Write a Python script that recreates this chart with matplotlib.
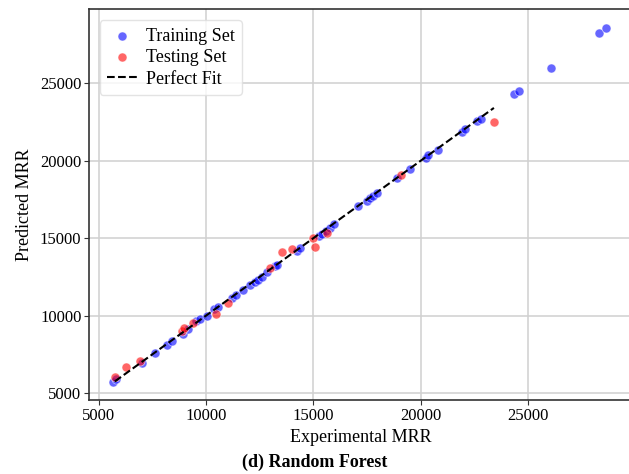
import matplotlib
matplotlib.use("Agg")
import matplotlib.pyplot as plt
import numpy as np

# training set: experimental vs predicted MRR
train_exp = [5650, 5790, 7000, 7610, 8170, 8400, 8910, 9150, 9520, 9700, 10030,
             10360, 10550, 11200, 11380, 11710, 12040, 12270, 12410, 12600, 12830,
             13200, 13300, 14230, 14370, 15250, 15390, 15580, 15770, 15950, 17070,
             17490, 17630, 17770, 17950, 18880, 19490, 20240, 20330, 20800, 21910,
             22050, 22610, 22800, 24340, 24570, 26060, 28300, 28630]
train_pred = [5710, 5900, 6940, 7580, 8100, 8350, 8800, 9130, 9650, 9770, 9970,
              10420, 10550, 11130, 11320, 11650, 11970, 12160, 12290, 12480, 12810,
              13190, 13260, 14160, 14350, 15130, 15260, 15450, 15650, 15900, 17060,
              17390, 17580, 17710, 17900, 18870, 19450, 20160, 20350, 20680, 21840,
              22030, 22550, 22680, 24290, 24490, 25970, 28230, 28550]

# testing set
test_exp = [5750, 6260, 6910, 8870, 8960, 9380, 10450, 11010, 12970, 13530,
            14000, 15000, 15070, 15620, 19070, 23400]
test_pred = [6030, 6680, 7060, 9000, 9190, 9520, 10100, 10800, 13060, 14100,
             14290, 15000, 14420, 15320, 19060, 22480]

plt.rcParams['font.family'] = ['Liberation Serif', 'DejaVu Serif']

fig = plt.figure(figsize=(6.29, 4.74), dpi=100)
ax = fig.add_axes([0.1415, 0.156, 0.864, 0.824])

ax.grid(True, color='#d0d0d0', linewidth=1.1)
ax.set_axisbelow(True)

ax.scatter(train_exp, train_pred, s=42, color='blue', alpha=0.6,
           edgecolor='white', linewidth=0.6, label='Training Set', zorder=3)
ax.scatter(test_exp, test_pred, s=42, color='red', alpha=0.6,
           edgecolor='white', linewidth=0.6, label='Testing Set', zorder=3)
lo, hi = min(test_exp), max(test_exp)
ax.plot([lo, hi], [lo, hi], 'k--', linewidth=1.5, label='Perfect Fit', zorder=4)

ax.set_xlim(4550, 29850)
ax.set_ylim(4550, 29750)
ax.set_xticks([5000, 10000, 15000, 20000, 25000])
ax.set_yticks([5000, 10000, 15000, 20000, 25000])
ax.tick_params(labelsize=12, length=3.5, color='#333333', pad=2)
for s in ax.spines.values():
    s.set_color('#333333')
    s.set_linewidth(1.2)

ax.set_xlabel('Experimental MRR', fontsize=13, labelpad=4)
ax.set_ylabel('Predicted MRR', fontsize=13, labelpad=5)

leg = ax.legend(loc='upper left', fontsize=13, frameon=True, handlelength=1.7,
                borderpad=0.4, labelspacing=0.25, handletextpad=0.45,
                borderaxespad=0.6)
leg.get_frame().set_edgecolor('#dddddd')

fig.text(0.5, 0.025, '(d) Random Forest', ha='center', va='center',
         fontsize=13, fontweight='bold')

fig.savefig('out.png', dpi=100)
